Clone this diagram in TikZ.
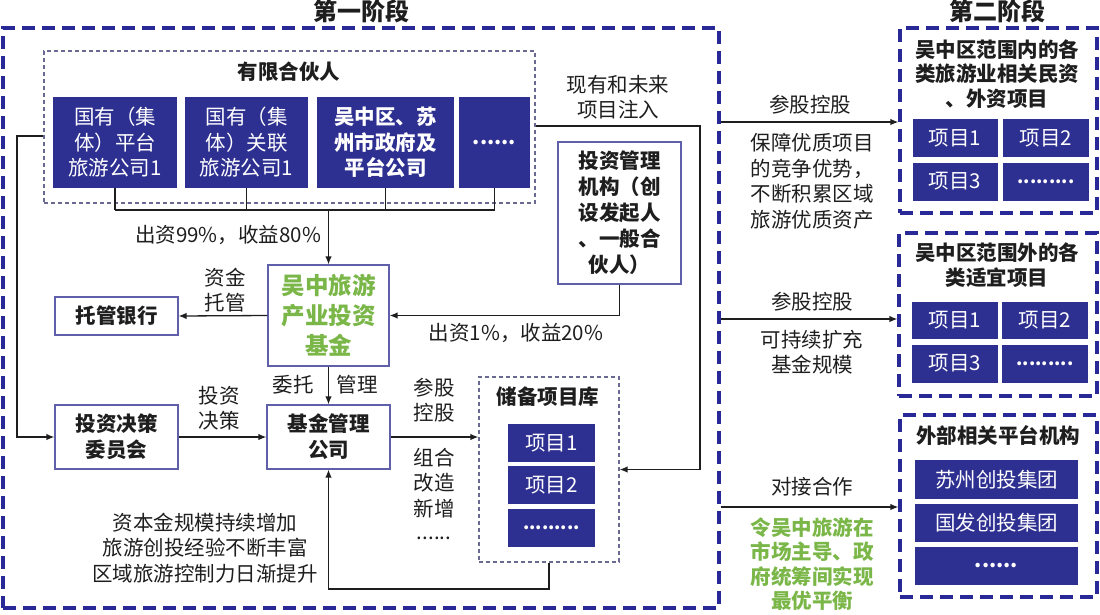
\documentclass[tikz,border=0pt]{standalone}
\usepackage{fontspec}
\setmainfont{Noto Sans CJK SC}
\usetikzlibrary{arrows.meta}
\definecolor{navy}{RGB}{40,40,150}
\definecolor{itemblue}{RGB}{46,48,145}
\definecolor{boxline}{RGB}{95,95,170}
\definecolor{grayline}{RGB}{105,105,145}
\definecolor{grn}{RGB}{122,182,72}
\definecolor{ink}{RGB}{30,30,30}
\begin{document}
\begin{tikzpicture}[x=1pt,y=-1pt,
  stage/.style={draw=navy,line width=3.2pt,dash pattern=on 13pt off 7pt,inner sep=0},
  gbox/.style={draw=grayline,line width=1.2pt,dash pattern=on 4pt off 3pt,inner sep=0},
  item/.style={fill=itemblue,text=white,inner sep=0,align=center,font=\fontsize{20.5}{25.5}\selectfont},
  wbox/.style={draw=boxline,line width=1.2pt,fill=white,inner sep=0,align=center,text=ink,font=\bfseries\fontsize{20.5}{26}\selectfont},
  lbl/.style={inner sep=0,align=center,text=ink,font=\fontsize{20.5}{25.5}\selectfont},
  ttl/.style={inner sep=0,align=center,text=ink,font=\bfseries\fontsize{20.5}{24.5}\selectfont},
  conn/.style={line width=1.3pt,draw=ink},
  arr/.style={conn,-{Latex[length=8pt,width=6.5pt]}}]
\useasboundingbox (0,0) rectangle (1100,614);

% stage frames
\node[stage,minimum width=716pt,minimum height=580pt] (s1) at (361,318) {};
\node[ttl,font=\bfseries\fontsize{24}{28}\selectfont] (t1) at (361,11) {第一阶段};
\node[ttl,font=\bfseries\fontsize{24}{28}\selectfont] (t2) at (997,11) {第二阶段};

% limited partners
\node[gbox,minimum width=491pt,minimum height=152pt] (lp) at (289.5,127) {};
\node[ttl] (lpt) at (289,72) {有限合伙人};
\node[item,minimum width=124pt,minimum height=91pt] (lp1) at (115,142.5) {国有（集\\体）平台\\旅游公司1};
\node[item,minimum width=123pt,minimum height=91pt] (lp2) at (246.5,142.5) {国有（集\\体）关联\\旅游公司1};
\node[item,minimum width=137pt,minimum height=91pt,font=\bfseries\fontsize{20.5}{25.5}\selectfont] (lp3) at (385.5,142.5) {吴中区、苏\\州市政府及\\平台公司};
\node[item,minimum width=71pt,minimum height=91pt,font=\bfseries\fontsize{20.5}{25.5}\selectfont] (lp4) at (494.5,142.5) {......};

% fund and others
\node[wbox,minimum width=121pt,minimum height=101pt,text=grn,font=\bfseries\fontsize{23.5}{30}\selectfont] (fund) at (328.5,315.5) {吴中旅游\\产业投资\\基金};
\node[wbox,minimum width=123pt,minimum height=38pt] (bank) at (116.5,316) {托管银行};
\node[wbox,minimum width=123pt,minimum height=142pt] (gp) at (619.5,213) {投资管理\\机构（创\\设发起人\\、一般合\\伙人）};
\node[wbox,minimum width=123pt,minimum height=64pt] (idc) at (116.5,437) {投资决策\\委员会};
\node[wbox,minimum width=123pt,minimum height=64pt] (mgmt) at (328.5,437) {基金管理\\公司};

% reserve project pool
\node[gbox,minimum width=140pt,minimum height=185pt] (res) at (549,469.5) {};
\node[ttl] (rest) at (548,397) {储备项目库};
\node[item,minimum width=87pt,minimum height=38pt] (r1) at (551.5,443) {项目1};
\node[item,minimum width=87pt,minimum height=38pt] (r2) at (551.5,485) {项目2};
\node[item,minimum width=87pt,minimum height=38pt,font=\bfseries\fontsize{18}{25.5}\selectfont] (r3) at (551.5,528) {.........};

% stage 2 boxes
\node[stage,minimum width=197pt,minimum height=185pt] (sa) at (998.5,120.5) {};
\node[ttl] (sat) at (997,74) {吴中区范围内的各\\类旅游业相关民资\\、外资项目};
\node[item,minimum width=85pt,minimum height=38pt] (a1) at (955,138) {项目1};
\node[item,minimum width=86pt,minimum height=38pt] (a2) at (1046,138) {项目2};
\node[item,minimum width=85pt,minimum height=38pt] (a3) at (955,181.5) {项目3};
\node[item,minimum width=86pt,minimum height=38pt,font=\bfseries\fontsize{18}{25.5}\selectfont] (a4) at (1046,181.5) {.........};

\node[stage,minimum width=198pt,minimum height=163pt] (sb) at (998,314.5) {};
\node[ttl] (sbt) at (997,265) {吴中区范围外的各\\类适宜项目};
\node[item,minimum width=86pt,minimum height=37pt] (b1) at (955,320) {项目1};
\node[item,minimum width=86pt,minimum height=37pt] (b2) at (1045,320) {项目2};
\node[item,minimum width=86pt,minimum height=38pt] (b3) at (955,363.5) {项目3};
\node[item,minimum width=86pt,minimum height=38pt,font=\bfseries\fontsize{18}{25.5}\selectfont] (b4) at (1045,363.5) {.........};

\node[stage,minimum width=197pt,minimum height=182pt] (sc) at (998.5,506) {};
\node[ttl] (sct) at (998,435) {外部相关平台机构};
\node[item,minimum width=163pt,minimum height=39pt] (c1) at (996.5,479.5) {苏州创投集团};
\node[item,minimum width=163pt,minimum height=38pt] (c2) at (996.5,523) {国发创投集团};
\node[item,minimum width=163pt,minimum height=38pt,font=\bfseries\fontsize{20.5}{25.5}\selectfont] (c3) at (996.5,566) {......};

% connectors: LP bus
\coordinate (busL) at (115,210);
\coordinate (busR) at (495,210);
\draw[conn] (lp1.south) -- (lp1.south|-busL);
\draw[conn] (lp2.south) -- (lp2.south|-busL);
\draw[conn] (lp3.south) -- (lp3.south|-busL);
\draw[conn] (lp4.south) -- (lp4.south|-busL);
\draw[conn] (busL) -- (busR);
\draw[arr] (fund.north|-busL) -- (fund.north);
\node[lbl] (l99) at (228,235) {出资99\%，收益80\%};

% left line to decision committee
\coordinate (lft) at (17,136);
\draw[arr] (lp.west|-lft) -- (lft) |- (idc.west);

% fund to bank
\draw[arr] (fund.west) -- (bank.east);
\node[lbl] (lbank) at (225,290) {资金\\托管};

% GP to fund
\draw[arr] (gp.south) |- (fund.east);
\node[lbl] (l1p) at (516,333) {出资1\%，收益20\%};

% injection
\coordinate (inj) at (700,126);
\draw[arr] (lp.east|-inj) -- (inj) |- (res.east);
\node[lbl] (linj) at (618,97) {现有和未来\\项目注入};

% fund to management
\draw[arr] (fund.south) -- (mgmt.north);
\node[lbl] (lwt) at (293,385) {委托};
\node[lbl] (lgl) at (357,385) {管理};

% committee to management
\draw[arr] (idc.east) -- (mgmt.west);
\node[lbl] (ltz) at (219,408) {投资\\决策};

% management to reserve
\draw[arr] (mgmt.east) -- (res.west|-mgmt.east);
\node[lbl] (lcg) at (434,400) {参股\\控股};
\node[lbl] (lzh) at (434,483) {组合\\改造\\新增};
\node[lbl] (ldots) at (434,538) {......};

% loop back
\coordinate (loopy) at (0,589);
\draw[arr] (res.south) -- (res.south|-loopy) -| (mgmt.south);
\node[lbl] (lcap) at (205,548) {资本金规模持续增加\\旅游创投经验不断丰富\\区域旅游控制力日渐提升};

% stage 2 arrows
\coordinate (ya) at (0,122);
\coordinate (yb) at (0,319);
\coordinate (yc) at (0,507);
\draw[arr] (s1.east|-ya) -- (sa.west|-ya);
\draw[arr] (s1.east|-yb) -- (sb.west|-yb);
\draw[arr] (s1.east|-yc) -- (sc.west|-yc);
\node[lbl] (la1) at (810,105) {参股控股};
\node[lbl] (la2) at (812,181) {保障优质项目\\的竞争优势，\\不断积累区域\\旅游优质资产};
\node[lbl] (lb1) at (812,302) {参股控股};
\node[lbl] (lb2) at (812,352) {可持续扩充\\基金规模};
\node[lbl] (lc1) at (812,487) {对接合作};
\node[lbl,text=grn,font=\bfseries\fontsize{20.5}{24.5}\selectfont] (lc2) at (812,564) {令吴中旅游在\\市场主导、政\\府统筹间实现\\最优平衡};
\end{tikzpicture}
\end{document}
